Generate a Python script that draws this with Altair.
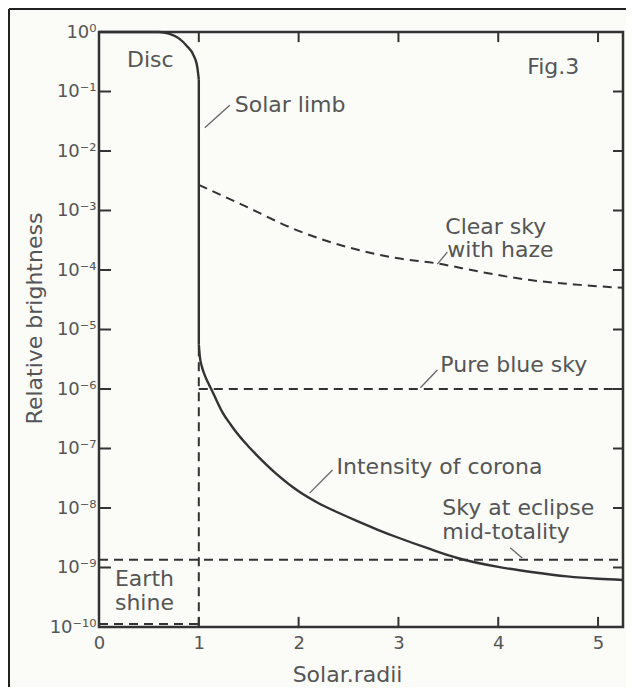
import altair as alt
import pandas as pd

# ---------------- data ----------------
# Solid curve, part 1: solar disc and its rounded limb (x = solar radii, log10 brightness)
disc_x = [0.0, 0.3, 0.6, 0.70, 0.80, 0.88, 0.95, 0.985, 1.0]
disc_log = [0.0, 0.0, 0.0, -0.027, -0.107, -0.234, -0.4, -0.593, -0.8]
# Solid curve, part 2: limb drop
limb_x = [1.0, 1.0]
limb_log = [-0.8, -5.25]
# Solid curve, part 3: intensity of corona
corona_x = [1.0, 1.01, 1.03, 1.06, 1.10, 1.13, 1.18, 1.24, 1.32, 1.41, 1.50, 1.58,
            1.78, 2.0, 2.2, 2.4, 2.6, 2.8, 3.0, 3.3, 3.59, 4.0, 4.35, 4.69, 5.0, 5.25]
corona_log = [-5.25, -5.45, -5.62, -5.77, -5.92, -6.02, -6.2, -6.4, -6.6, -6.8, -6.97, -7.11,
              -7.43, -7.72, -7.92, -8.08, -8.23, -8.37, -8.5, -8.68, -8.84, -8.99, -9.08,
              -9.15, -9.19, -9.21]

# Clear sky with haze (dashed)
haze_x = [1.0, 1.48, 1.98, 2.48, 2.98, 3.39, 3.82, 4.32, 4.82, 5.25]
haze_log = [-2.57, -2.94, -3.33, -3.61, -3.8, -3.89, -4.03, -4.17, -4.25, -4.3]

# Pure blue sky (dashed horizontal) and drop line at the limb (dashed vertical)
blue_x = [1.0, 5.25]
blue_log = [-6.0, -6.0]
drop_x = [1.0, 1.0]
drop_log = [-5.3, -10.0]

# Sky at eclipse mid-totality (dashed horizontal)
eclipse_x = [0.0, 5.25]
eclipse_log = [-8.87, -8.87]

# Earth shine (dashed horizontal)
earth_x = [0.0, 1.0]
earth_log = [-9.95, -9.95]

# Annotations
label_text = ["Disc", "Fig.3", "Solar limb", "Clear sky", "with haze", "Pure blue sky",
              "Intensity of corona", "Sky at eclipse", "mid-totality", "Earth", "shine"]
label_x = [0.28, 4.29, 1.36, 3.47, 3.49, 3.42, 2.38, 3.44, 3.44, 0.16, 0.16]
label_log = [-0.47, -0.59, -1.23, -3.27, -3.66, -5.6, -7.31, -8.0, -8.4, -9.19, -9.59]

# Leader lines (start, end)
lead_x1 = [1.06, 3.39, 3.22, 2.11, 4.12]
lead_x2 = [1.31, 3.49, 3.39, 2.34, 4.24]
lead_log1 = [-1.61, -3.9, -5.98, -7.75, -8.67]
lead_log2 = [-1.23, -3.7, -5.68, -7.36, -8.84]

# Axis ticks and labels
x_ticks = [0, 1, 2, 3, 4, 5]
y_ticks_exp = [0, -1, -2, -3, -4, -5, -6, -7, -8, -9, -10]
y_tick_labels = ["10⁰", "10⁻¹", "10⁻²", "10⁻³", "10⁻⁴", "10⁻⁵",
                 "10⁻⁶", "10⁻⁷", "10⁻⁸", "10⁻⁹", "10⁻¹⁰"]

# ---------------- build tables ----------------
def series(name, xs, logs):
    return pd.DataFrame({"series": name, "order": range(len(xs)), "x": xs,
                         "y": [10 ** v for v in logs]})

disc_df = series("disc", disc_x, disc_log)
limb_df = series("limb", limb_x, limb_log)
corona_df = series("corona", corona_x, corona_log)
dashed_df = pd.concat([
    series("haze", haze_x, haze_log),
    series("blue", blue_x, blue_log),
    series("drop", drop_x, drop_log),
    series("eclipse", eclipse_x, eclipse_log),
    series("earth", earth_x, earth_log),
])
text_df = pd.DataFrame({"x": label_x, "y": [10 ** v for v in label_log], "t": label_text})
lead_df = pd.DataFrame({"x": lead_x1, "x2": lead_x2,
                        "y": [10 ** v for v in lead_log1], "y2": [10 ** v for v in lead_log2]})

y_ticks = [10.0 ** e for e in y_ticks_exp]
tick_rows = []
for v in y_ticks:
    tick_rows.append({"x": 0.0, "x2": 0.12, "y": v, "y2": v})
    tick_rows.append({"x": 5.15, "x2": 5.25, "y": v, "y2": v})
for v in x_ticks[1:]:
    tick_rows.append({"x": v, "x2": v, "y": 1.0, "y2": 10 ** -0.17})
    tick_rows.append({"x": v, "x2": v, "y": 1e-10, "y2": 10 ** -9.83})
tick_df = pd.DataFrame(tick_rows)

W, H = 524, 595
PAD_BOTTOM = 60
FONT = "DejaVu Sans"
INK = "#333333"
TXT = "#555555"

xscale = alt.Scale(domain=[0, 5.25], nice=False, zero=False)
yscale = alt.Scale(type="log", domain=[1e-10, 1], nice=False)

label_expr = "[" + ",".join("'" + s + "'" for s in y_tick_labels) + "][round(-log(datum.value)/LN10)]"

x_axis = alt.Axis(values=x_ticks, tickSize=0, domain=False, grid=False, labelFlush=False,
                  labelFont=FONT, labelFontSize=18, labelColor=TXT, labelPadding=7,
                  title="Solar.radii", titleFont=FONT, titleFontSize=22,
                  titleFontWeight="normal", titleColor=TXT, titlePadding=12, titleX=248)
y_axis = alt.Axis(values=y_ticks, labelExpr=label_expr, tickSize=0, domain=False, grid=False,
                  labelFlush=False,
                  labelFont=FONT, labelFontSize=18, labelColor=TXT, labelPadding=3,
                  title="Relative brightness", titleFont=FONT, titleFontSize=22,
                  titleFontWeight="normal", titleColor=TXT, titleX=-65, titleY=286,
                  titleBaseline="middle")

X = alt.X("x:Q", scale=xscale, axis=x_axis)
Y = alt.Y("y:Q", scale=yscale, axis=y_axis)

disc = alt.Chart(disc_df).mark_line(color=INK, strokeWidth=2.4, interpolate="monotone").encode(
    x=X, y=Y, order="order:Q")
limb = alt.Chart(limb_df).mark_line(color=INK, strokeWidth=2.4).encode(
    x=X, y=Y, order="order:Q")
corona = alt.Chart(corona_df).mark_line(color=INK, strokeWidth=2.4, interpolate="monotone").encode(
    x=X, y=Y, order="order:Q")

dashed = alt.Chart(dashed_df).mark_line(color=INK, strokeWidth=2, strokeDash=[9, 6],
                                        interpolate="monotone").encode(
    x=X, y=Y, detail="series:N", order="order:Q")

ticks = alt.Chart(tick_df).mark_rule(color=INK, strokeWidth=2).encode(
    x=X, x2="x2:Q", y=Y, y2="y2:Q")

leaders = alt.Chart(lead_df).mark_rule(color="#666666", strokeWidth=1.3).encode(
    x=X, x2="x2:Q", y=Y, y2="y2:Q")

texts = alt.Chart(text_df).mark_text(font=FONT, fontSize=22, color=TXT, align="left",
                                     baseline="middle").encode(
    x=X, y=Y, text="t:N")

one = pd.DataFrame({"k": [0]})
frame_top = alt.Chart(one).mark_rule(color="#222222", strokeWidth=2).encode(
    x=alt.value(-90), x2=alt.value(W + 3), y=alt.value(-23))
frame_left = alt.Chart(one).mark_rule(color="#222222", strokeWidth=2).encode(
    x=alt.value(-90), y=alt.value(-23), y2=alt.value(H + PAD_BOTTOM))

chart = alt.layer(disc, limb, corona, dashed, ticks, leaders, texts, frame_top, frame_left).properties(
    width=W, height=H,
    autosize=alt.AutoSizeParams(type="none"),
    padding={"left": 91, "top": 24, "right": 3, "bottom": PAD_BOTTOM},
    background="#fbfbf8",
).configure_view(stroke=INK, strokeWidth=2.5)

chart.save("out.html", embed_options={"renderer": "svg", "actions": False})
